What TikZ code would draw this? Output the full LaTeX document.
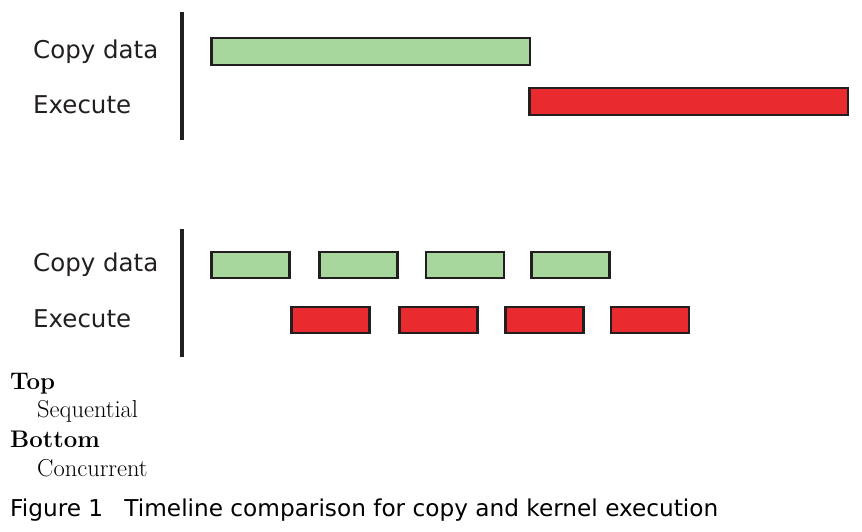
\documentclass[tikz,border=0pt]{standalone}
\usepackage{fontspec}
\setmainfont{Latin Modern Roman}
\newfontfamily\labfont{DejaVu Sans}
\definecolor{gfill}{HTML}{A8D79E}
\definecolor{rfill}{HTML}{E92B30}
\definecolor{edge}{HTML}{231F20}
\tikzset{
  bar/.style={draw=edge, line width=2.5pt, inner sep=0pt, minimum height=27pt},
  gbar/.style={bar, fill=gfill},
  rbar/.style={bar, fill=rfill},
  sgbar/.style={gbar, minimum height=26pt, minimum width=78pt},
  srbar/.style={rbar, minimum height=26pt, minimum width=78pt},
  axis/.style={draw=edge, line width=4pt},
  lab/.style={anchor=base west, inner sep=0pt, font=\labfont\fontsize{24.5}{29}\selectfont, text=edge},
  ser/.style={anchor=base west, inner sep=0pt, font=\fontsize{24.5}{29}\selectfont},
  serb/.style={ser, font=\fontsize{24}{29}\selectfont\bfseries},
}
\begin{document}
\begin{tikzpicture}[x=1pt,y=-1pt]
\useasboundingbox (0,0) rectangle (862,532);
% top panel
\coordinate (ta) at (182,12);
\coordinate (tb) at (182,140);
\draw[axis] (ta) -- (tb);
\node[lab] (tcopy) at (33,59) {Copy data};
\node[lab] (texec) at (33,114) {Execute};
\node[gbar, minimum width=318.5pt] (g1) at (370.5,51.5) {};
\node[rbar, minimum width=318.5pt] (r1) at (688.5,101.5) {};
% bottom panel
\coordinate (ba) at (182,229);
\coordinate (bb) at (182,357);
\draw[axis] (ba) -- (bb);
\node[lab] (bcopy) at (33,271) {Copy data};
\node[lab] (bexec) at (33,327) {Execute};
\node[sgbar] (bg1) at (250.5,265) {};
\node[sgbar] (bg2) at (358.5,265) {};
\node[sgbar] (bg3) at (465,265) {};
\node[sgbar] (bg4) at (570.5,265) {};
\node[srbar] (br1) at (330.5,320) {};
\node[srbar] (br2) at (438.5,320) {};
\node[srbar] (br3) at (544.5,320) {};
\node[srbar] (br4) at (650,320) {};
% legend
\node[serb] (ktop) at (10,389) {Top};
\node[ser] (kseq) at (37,417) {Sequential};
\node[serb] (kbot) at (10,447) {Bottom};
\node[ser] (kcon) at (37,476) {Concurrent};
% caption
\node[anchor=base west, inner sep=0pt, font=\labfont\fontsize{23.2}{28}\selectfont] (cap) at (10,516.5) {Figure 1\hspace{0.6em} Timeline comparison for copy and kernel execution};
\end{tikzpicture}
\end{document}
